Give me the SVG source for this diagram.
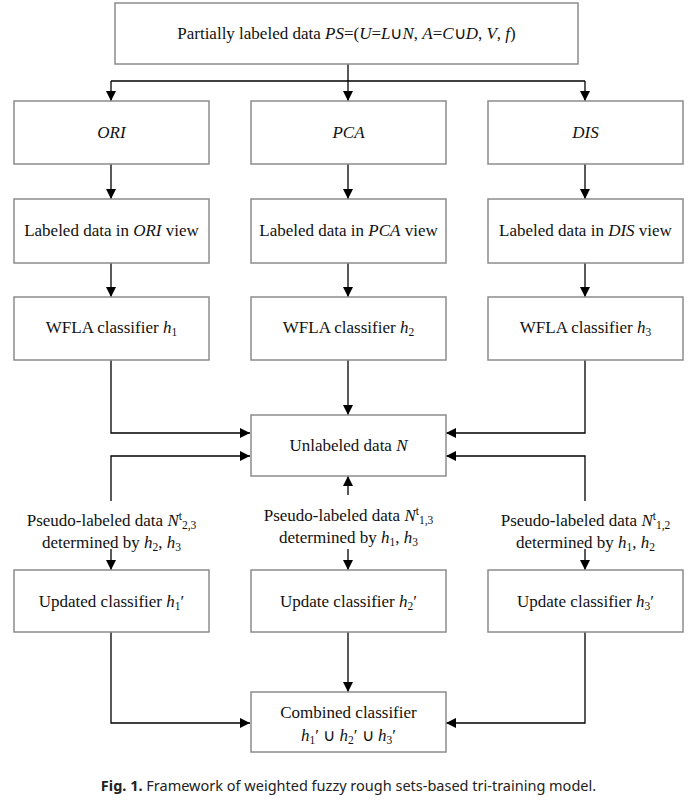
<svg xmlns="http://www.w3.org/2000/svg" width="693" height="801" viewBox="0 0 693 801">
<style>
.box{fill:#fff;stroke:#8c8c8c;stroke-width:1.5}
.t{font-family:"Liberation Serif","Times New Roman",serif;font-size:17px;fill:#111;text-anchor:middle}
.i{font-style:italic}
.s{font-size:11.5px}
.c{stroke:#000;stroke-width:1.3;fill:none}
.cap{font-family:"Noto Sans","Open Sans",sans-serif;font-size:14.5px;fill:#222;text-anchor:middle}
</style>
<defs>
<marker id="a" viewBox="0 0 10 10" refX="10" refY="5" markerWidth="10" markerHeight="10" markerUnits="userSpaceOnUse" orient="auto">
<path d="M0,0 L10,5 L0,10 z" fill="#000"/>
</marker>
</defs>
<rect width="693" height="801" fill="#fff"/>
<g id="connectors">
<path class="c" d="M348,64 V81"/>
<path class="c" d="M111,81 H585"/>
<path class="c" marker-end="url(#a)" d="M111,81 V101"/>
<path class="c" marker-end="url(#a)" d="M348,81 V101"/>
<path class="c" marker-end="url(#a)" d="M585,81 V101"/>
<path class="c" marker-end="url(#a)" d="M111,164 V199"/>
<path class="c" marker-end="url(#a)" d="M348,164 V199"/>
<path class="c" marker-end="url(#a)" d="M585,164 V199"/>
<path class="c" marker-end="url(#a)" d="M111,263 V297"/>
<path class="c" marker-end="url(#a)" d="M348,263 V297"/>
<path class="c" marker-end="url(#a)" d="M585,263 V297"/>
<path class="c" marker-end="url(#a)" d="M111,360 V433 H250"/>
<path class="c" marker-end="url(#a)" d="M348,360 V415"/>
<path class="c" marker-end="url(#a)" d="M585,360 V433 H446"/>
<path class="c" marker-end="url(#a)" d="M111,501 V456 H250"/>
<path class="c" marker-end="url(#a)" d="M585,501 V456 H446"/>
<path class="c" marker-end="url(#a)" d="M348,495 V476"/>
<path class="c" marker-end="url(#a)" d="M111,549 V570"/>
<path class="c" marker-end="url(#a)" d="M348,549 V570"/>
<path class="c" marker-end="url(#a)" d="M585,549 V570"/>
<path class="c" marker-end="url(#a)" d="M111,632 V723 H250"/>
<path class="c" marker-end="url(#a)" d="M348,632 V692"/>
<path class="c" marker-end="url(#a)" d="M585,632 V723 H446"/>
</g>
<g id="n-top"><rect class="box" x="115" y="3" width="463" height="61"/>
<text class="t" x="346.5" y="39">Partially labeled data <tspan class="i">PS</tspan>=(<tspan class="i">U</tspan>=<tspan class="i">L</tspan>∪<tspan class="i">N</tspan>, <tspan class="i">A</tspan>=<tspan class="i">C</tspan>∪<tspan class="i">D</tspan>, <tspan class="i">V</tspan>, <tspan class="i">f</tspan>)</text></g>
<g id="n-ori"><rect class="box" x="14" y="101" width="195" height="63"/><text class="t i" x="111.5" y="138">ORI</text></g>
<g id="n-pca"><rect class="box" x="251" y="101" width="195" height="63"/><text class="t i" x="348.5" y="138">PCA</text></g>
<g id="n-dis"><rect class="box" x="488" y="101" width="195" height="63"/><text class="t i" x="585.5" y="138">DIS</text></g>
<g id="n-lori"><rect class="box" x="14" y="199" width="195" height="64"/><text class="t" x="111.5" y="236">Labeled data in <tspan class="i">ORI</tspan> view</text></g>
<g id="n-lpca"><rect class="box" x="251" y="199" width="195" height="64"/><text class="t" x="348.5" y="236">Labeled data in <tspan class="i">PCA</tspan> view</text></g>
<g id="n-ldis"><rect class="box" x="488" y="199" width="195" height="64"/><text class="t" x="585.5" y="236">Labeled data in <tspan class="i">DIS</tspan> view</text></g>
<g id="n-h1"><rect class="box" x="14" y="297" width="195" height="63"/><text class="t" x="111.5" y="333">WFLA classifier <tspan class="i">h</tspan><tspan class="s" dy="3">1</tspan></text></g>
<g id="n-h2"><rect class="box" x="251" y="297" width="195" height="63"/><text class="t" x="348.5" y="333">WFLA classifier <tspan class="i">h</tspan><tspan class="s" dy="3">2</tspan></text></g>
<g id="n-h3"><rect class="box" x="488" y="297" width="195" height="63"/><text class="t" x="585.5" y="333">WFLA classifier <tspan class="i">h</tspan><tspan class="s" dy="3">3</tspan></text></g>
<g id="n-unl"><rect class="box" x="251" y="415" width="195" height="61"/><text class="t" x="348.5" y="451">Unlabeled data <tspan class="i">N</tspan></text></g>
<g id="n-ps1"><text class="t" x="111.5" y="526">Pseudo-labeled data <tspan class="i">N</tspan><tspan class="s" dy="-6">t</tspan><tspan class="s" dy="9">2,3</tspan></text>
<text class="t" x="111.5" y="548">determined by <tspan class="i">h</tspan><tspan class="s" dy="3">2</tspan><tspan dy="-3">, </tspan><tspan class="i">h</tspan><tspan class="s" dy="3">3</tspan></text></g>
<g id="n-ps2"><text class="t" x="348.5" y="521">Pseudo-labeled data <tspan class="i">N</tspan><tspan class="s" dy="-6">t</tspan><tspan class="s" dy="9">1,3</tspan></text>
<text class="t" x="348.5" y="543">determined by <tspan class="i">h</tspan><tspan class="s" dy="3">1</tspan><tspan dy="-3">, </tspan><tspan class="i">h</tspan><tspan class="s" dy="3">3</tspan></text></g>
<g id="n-ps3"><text class="t" x="585.5" y="526">Pseudo-labeled data <tspan class="i">N</tspan><tspan class="s" dy="-6">t</tspan><tspan class="s" dy="9">1,2</tspan></text>
<text class="t" x="585.5" y="548">determined by <tspan class="i">h</tspan><tspan class="s" dy="3">1</tspan><tspan dy="-3">, </tspan><tspan class="i">h</tspan><tspan class="s" dy="3">2</tspan></text></g>
<g id="n-u1"><rect class="box" x="14" y="570" width="195" height="62"/><text class="t" x="111.5" y="607">Updated classifier <tspan class="i">h</tspan><tspan class="s" dy="3">1</tspan><tspan dy="-3">′</tspan></text></g>
<g id="n-u2"><rect class="box" x="251" y="570" width="195" height="62"/><text class="t" x="348.5" y="607">Update classifier <tspan class="i">h</tspan><tspan class="s" dy="3">2</tspan><tspan dy="-3">′</tspan></text></g>
<g id="n-u3"><rect class="box" x="488" y="570" width="195" height="62"/><text class="t" x="585.5" y="607">Update classifier <tspan class="i">h</tspan><tspan class="s" dy="3">3</tspan><tspan dy="-3">′</tspan></text></g>
<g id="n-comb"><rect class="box" x="251" y="692" width="195" height="60"/>
<text class="t" x="348.5" y="718">Combined classifier</text>
<text class="t" x="348.5" y="741"><tspan class="i">h</tspan><tspan class="s" dy="3">1</tspan><tspan dy="-3">′ ∪ </tspan><tspan class="i">h</tspan><tspan class="s" dy="3">2</tspan><tspan dy="-3">′ ∪ </tspan><tspan class="i">h</tspan><tspan class="s" dy="3">3</tspan><tspan dy="-3">′</tspan></text></g>
<text class="cap" x="348.5" y="791"><tspan font-weight="bold">Fig. 1.</tspan>  Framework of weighted fuzzy rough sets-based tri-training model.</text>
</svg>
